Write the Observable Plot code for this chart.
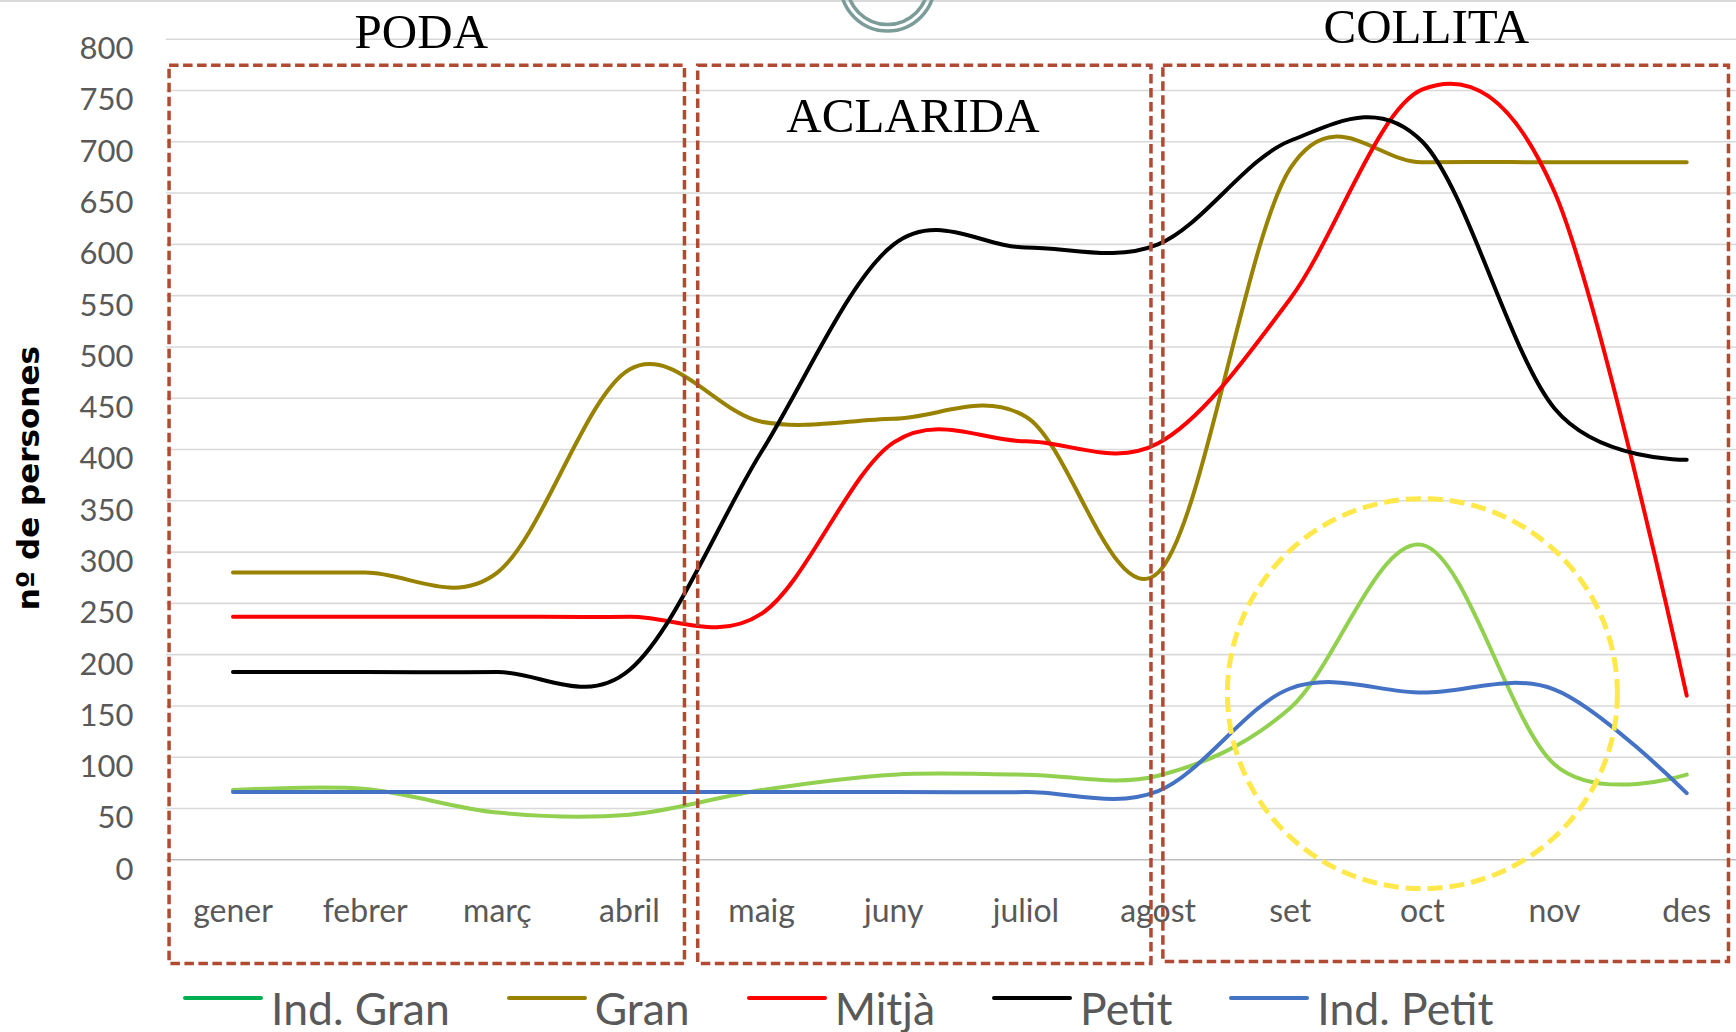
<!DOCTYPE html>
<html>
<head>
<meta charset="utf-8">
<script src="https://cdn.jsdelivr.net/npm/d3@7"></script>
<script src="https://cdn.jsdelivr.net/npm/@observablehq/plot@0.6"></script>
<style>
  html, body { margin: 0; padding: 0; background: #fff; }
  #wrap { position: relative; width: 1736px; height: 1032px; overflow: hidden; background: #fff; }
  #wrap svg.plot { display: block; position: absolute; left: 0; top: 0; }
  #topline { position: absolute; left: 0; top: 0; width: 1736px; height: 2px; background: #d9d9d9; }
  #logo { position: absolute; left: 830px; top: 0; }
  #legend { position: absolute; left: 183px; top: 985px; display: flex; font-family: Lato, "Open Sans", sans-serif;
            font-size: 44.5px; line-height: 46px; color: #595959; white-space: nowrap; }
  .item { display: flex; align-items: flex-start; margin-right: 57px; }
  .sw { width: 80px; height: 4px; margin-top: 11px; margin-right: 8px; border-radius: 2px; }
</style>
</head>
<body>
<div id="wrap">
  <div id="chart"></div>
  <div id="topline"></div>
  <svg id="logo" width="120" height="40" viewBox="830 0 120 40">
    <circle cx="887.5" cy="-16" r="47" fill="none" stroke="#7c9c99" stroke-width="3.5"></circle>
    <circle cx="887.5" cy="-16" r="40.5" fill="none" stroke="#7c9c99" stroke-width="3.5"></circle>
  </svg>
  <div id="legend"></div>
</div>
<script>
// ---- data ----
const months = ["gener", "febrer", "març", "abril", "maig", "juny", "juliol", "agost", "set", "oct", "nov", "des"];
const indGran  = [68, 69, 46, 44, 68, 83, 83, 82, 148, 307, 93, 83];
const gran     = [280, 280, 280, 478, 427, 430, 432, 280, 674, 680, 680, 680];
const mitja    = [237, 237, 237, 237, 240, 407, 408, 406, 547, 751, 651, 160];
const petit    = [183, 183, 183, 185, 398, 600, 597, 600, 701, 700, 440, 390];
const indPetit = [66, 66, 66, 66, 66, 66, 66, 67, 167, 163, 166, 65];

const seriesNames  = ["Ind. Gran", "Gran", "Mitjà", "Petit", "Ind. Petit"];
const seriesValues = [indGran, gran, mitja, petit, indPetit];
const lineColors   = ["#92D050", "#998200", "#FF0000", "#000000", "#4472C4"];
const legendColors = ["#00B050", "#998200", "#FF0000", "#000000", "#4472C4"];

const yTicks = [0, 50, 100, 150, 200, 250, 300, 350, 400, 450, 500, 550, 600, 650, 700, 750, 800];
const monthIndex = months.map((m, i) => i);

// annotation boxes (phases) in month-index / value units
const phaseNames = ["PODA", "ACLARIDA", "COLLITA"];
const phaseX1 = [-0.48, 3.52, 7.04];
const phaseX2 = [3.42, 6.95, 11.32];
const phaseTop = [774, 774, 774];
const phaseBottom = [-101.5, -101.5, -99.6];
const phaseLabelX = [1.425, 5.145, 9.03];
const phaseLabelY = [806.6, 724.7, 811.2];

// highlighted area (harvest peak of Ind. series)
const focusMonth = [9];
const focusValue = [162];

// ---- tables ----
const rows = [];
seriesNames.forEach((name, s) => {
  seriesValues[s].forEach((v, i) => rows.push({series: name, x: i, y: v}));
});
const phases = phaseNames.map((name, i) => ({
  name, x1: phaseX1[i], x2: phaseX2[i], y1: phaseBottom[i], y2: phaseTop[i], tx: phaseLabelX[i], ty: phaseLabelY[i]
}));
const focus = focusMonth.map((m, i) => ({x: m, y: focusValue[i]}));

const lineMarks = seriesNames.map((name, s) =>
  Plot.line(rows.filter(d => d.series === name), {
    x: "x", y: "y", stroke: lineColors[s], strokeWidth: 4,
    curve: "cardinal", tension: 0, strokeLinecap: "round", strokeLinejoin: "round"
  })
);

const chart = Plot.plot({
  width: 1736,
  height: 975,
  marginLeft: 166,
  marginRight: 0,
  marginTop: 38.7,
  marginBottom: 975 - 859.3,
  x: {type: "linear", domain: [0, 11], range: [232.5, 1686.2]},
  y: {type: "linear", domain: [0, 800], range: [859.3, 38.7]},
  style: {fontFamily: "Lato, 'Open Sans', sans-serif", background: "white", overflow: "visible"},
  marks: [
    Plot.ruleY(yTicks.filter(t => t !== 0), {stroke: "#d9d9d9", strokeWidth: 1.6}),
    Plot.ruleY([0], {stroke: "#bfbfbf", strokeWidth: 1.6}),
    Plot.axisY(yTicks, {tickSize: 0, tickPadding: 33, fontSize: 31, color: "#595959", dy: 10, label: null}),
    Plot.axisX(monthIndex, {tickSize: 0, tickPadding: 39, fontSize: 32, color: "#595959",
      tickFormat: i => months[i], label: null}),
    ...lineMarks,
    Plot.rect(phases, {x1: "x1", x2: "x2", y1: "y1", y2: "y2", fill: "none",
      stroke: "#B04A32", strokeWidth: 3.5, strokeDasharray: "9.5,4.5"}),
    Plot.text(phases, {x: "tx", y: "ty", text: "name", fontFamily: "'Liberation Serif', 'DejaVu Serif', serif",
      fontSize: 49, fill: "#000"}),
    Plot.dot(focus, {x: "x", y: "y", r: 195, fill: "none", stroke: "#FFE84B", strokeWidth: 5, strokeDasharray: "15,7"}),
    Plot.text(["nº de persones"], {frameAnchor: "left", dx: -137, y: 372, text: d => d, rotate: -90,
      textAnchor: "middle", lineAnchor: "middle",
      fontFamily: "'DejaVu Sans', sans-serif", fontWeight: "bold", fontSize: 31, fill: "#000"})
  ]
});
document.getElementById("chart").appendChild(chart);

// ---- legend ----
const legend = document.getElementById("legend");
seriesNames.forEach((name, s) => {
  const item = document.createElement("div");
  item.className = "item";
  const sw = document.createElement("div");
  sw.className = "sw";
  sw.style.background = legendColors[s];
  const lab = document.createElement("span");
  lab.textContent = name;
  item.appendChild(sw);
  item.appendChild(lab);
  legend.appendChild(item);
});
</script>
</body>
</html>
